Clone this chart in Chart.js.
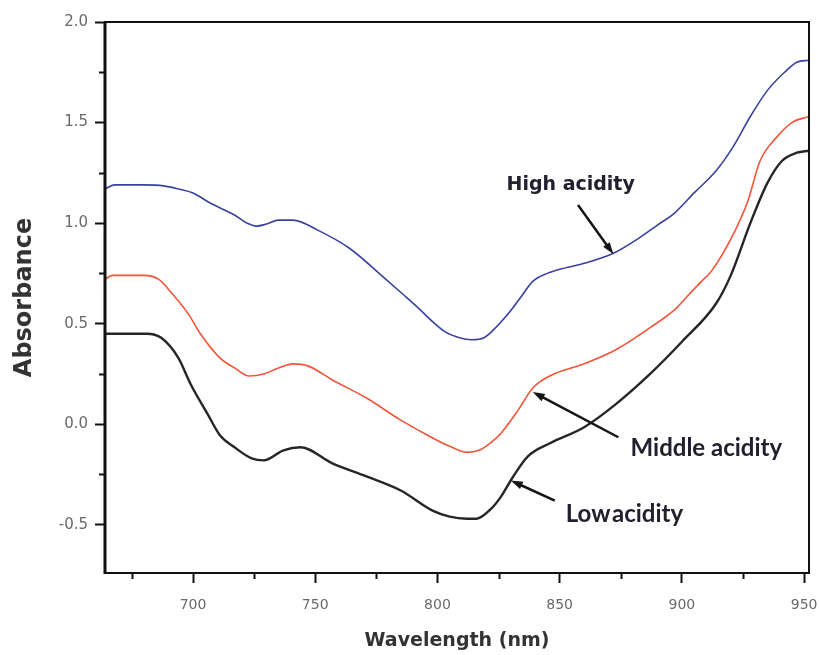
<!DOCTYPE html>
<html>
<head>
<meta charset="utf-8">
<script src="https://cdn.jsdelivr.net/npm/chart.js@4.4.1/dist/chart.umd.min.js"></script>
<style>
  html, body { margin: 0; padding: 0; background: #ffffff; }
  #wrap { width: 819px; height: 655px; }
</style>
</head>
<body>
<div id="wrap"><canvas id="c" width="819" height="655"></canvas></div>
<script>
// ---- Data ----
const highWl  = [664, 668, 680, 688, 694, 700, 707, 717, 722, 726, 730, 735, 741, 751, 764, 778, 786, 792, 798, 803, 809, 814, 819, 823, 829, 834, 839, 845, 850, 860, 872, 883, 890, 897, 905, 914, 921, 928, 935, 942, 947, 952];
const highAbs = [1.17, 1.19, 1.19, 1.185, 1.17, 1.15, 1.10, 1.04, 1.00, 0.985, 0.995, 1.015, 1.015, 0.965, 0.875, 0.73, 0.645, 0.58, 0.51, 0.46, 0.43, 0.42, 0.43, 0.47, 0.55, 0.63, 0.71, 0.75, 0.77, 0.80, 0.85, 0.93, 0.99, 1.05, 1.15, 1.26, 1.38, 1.53, 1.66, 1.75, 1.80, 1.81];

const midWl  = [664, 667, 680, 686, 690, 698, 703, 711, 717, 723, 729, 735, 741, 747, 757, 771, 785, 793, 799, 805, 812, 817, 822, 826, 833, 839, 846, 860, 873, 887, 898, 901, 908, 912, 920, 927, 932, 939, 945, 952];
const midAbs = [0.72, 0.74, 0.74, 0.72, 0.67, 0.55, 0.45, 0.33, 0.28, 0.24, 0.25, 0.28, 0.30, 0.29, 0.22, 0.13, 0.02, -0.035, -0.075, -0.11, -0.14, -0.13, -0.09, -0.045, 0.07, 0.18, 0.24, 0.30, 0.37, 0.48, 0.58, 0.62, 0.71, 0.76, 0.92, 1.11, 1.31, 1.43, 1.50, 1.53];

const lowWl  = [664, 681, 687, 694, 699, 706, 711, 717, 724, 729, 737, 744, 757, 771, 785, 798, 805, 812, 816, 822, 826, 831, 837, 846, 860, 873, 887, 900, 914, 920, 928, 935, 941, 947, 952];
const lowAbs = [0.45, 0.45, 0.43, 0.33, 0.20, 0.05, -0.055, -0.115, -0.17, -0.18, -0.13, -0.115, -0.195, -0.26, -0.33, -0.43, -0.46, -0.47, -0.47, -0.42, -0.36, -0.26, -0.16, -0.095, -0.015, 0.10, 0.25, 0.41, 0.60, 0.74, 1.00, 1.20, 1.31, 1.35, 1.36];

const xTicks = [700, 750, 800, 850, 900, 950];
const xMinorTicks = [675, 725, 775, 825, 875, 925];
const yTicks = [-0.5, 0.0, 0.5, 1.0, 1.5, 2.0];
const yMinorTicks = [-0.25, 0.25, 0.75, 1.25, 1.75];

const seriesNames = ['High acidity', 'Middle acidity', 'Low acidity'];

function pts(xs, ys) { return xs.map((x, i) => ({ x: x, y: ys[i] })); }

// annotation labels (anchored in data units)
const notes = [
  { text: seriesNames[0], font: 'bold 19px "DejaVu Sans"', tx: 854.5, ty: 1.19, from: [857.5, 1.09], to: [872, 0.845] },
  { text: seriesNames[1], font: 'bold 24px Lato', tx: 910, ty: -0.12, from: [874, -0.065], to: [839, 0.16] },
  { text: 'Low' + String.fromCharCode(8202) + 'acidity', font: 'bold 24px Lato', tx: 876.5, ty: -0.45, from: [848, -0.38], to: [830, -0.28] }
];

const framePlugin = {
  id: 'frame',
  afterDatasetsDraw(chart) {
    const ctx = chart.ctx;
    const a = chart.chartArea;
    const xs = chart.scales.x, ys = chart.scales.y;
    ctx.save();
    ctx.strokeStyle = '#111';
    ctx.lineWidth = 2;
    ctx.beginPath();
    ctx.rect(a.left, a.top, a.right - a.left, a.bottom - a.top);
    ctx.stroke();
    // thicker left axis
    ctx.lineWidth = 3;
    ctx.beginPath();
    ctx.moveTo(a.left, a.top);
    ctx.lineTo(a.left, a.bottom + 1);
    ctx.stroke();
    // minor ticks
    ctx.lineWidth = 2;
    ctx.beginPath();
    xMinorTicks.forEach(v => {
      const px = Math.round(xs.getPixelForValue(v)) + 0.5;
      ctx.moveTo(px, a.bottom);
      ctx.lineTo(px, a.bottom + 6);
    });
    yMinorTicks.forEach(v => {
      const py = Math.round(ys.getPixelForValue(v)) + 0.5;
      ctx.moveTo(a.left, py);
      ctx.lineTo(a.left - 6, py);
    });
    ctx.stroke();

    // annotations
    notes.forEach(n => {
      ctx.fillStyle = '#20202e';
      ctx.font = n.font;
      ctx.textAlign = 'center';
      ctx.textBaseline = 'middle';
      ctx.fillText(n.text, xs.getPixelForValue(n.tx), ys.getPixelForValue(n.ty));
      const x1 = xs.getPixelForValue(n.from[0]), y1 = ys.getPixelForValue(n.from[1]);
      const x2 = xs.getPixelForValue(n.to[0]), y2 = ys.getPixelForValue(n.to[1]);
      const ang = Math.atan2(y2 - y1, x2 - x1);
      const L = 12, W = 4;
      ctx.strokeStyle = '#151515';
      ctx.lineWidth = 2.5;
      ctx.beginPath();
      ctx.moveTo(x1, y1);
      ctx.lineTo(x2 - Math.cos(ang) * L * 0.6, y2 - Math.sin(ang) * L * 0.6);
      ctx.stroke();
      ctx.fillStyle = '#151515';
      ctx.beginPath();
      ctx.moveTo(x2, y2);
      ctx.lineTo(x2 - Math.cos(ang) * L + Math.sin(ang) * W, y2 - Math.sin(ang) * L - Math.cos(ang) * W);
      ctx.lineTo(x2 - Math.cos(ang) * L - Math.sin(ang) * W, y2 - Math.sin(ang) * L + Math.cos(ang) * W);
      ctx.closePath();
      ctx.fill();
    });
    ctx.restore();
  }
};

new Chart(document.getElementById('c'), {
  type: 'line',
  data: {
    datasets: [
      { label: seriesNames[0], data: pts(highWl, highAbs), borderColor: '#39429e', borderWidth: 1.6 },
      { label: seriesNames[1], data: pts(midWl, midAbs), borderColor: '#f0553a', borderWidth: 1.6 },
      { label: seriesNames[2], data: pts(lowWl, lowAbs), borderColor: '#262626', borderWidth: 2.4 }
    ]
  },
  options: {
    responsive: false,
    devicePixelRatio: 1,
    animation: false,
    events: [],
    elements: {
      point: { radius: 0 },
      line: { tension: 0.4, cubicInterpolationMode: 'monotone', fill: false }
    },
    layout: { padding: { top: 22, right: 10, left: 0, bottom: 0 } },
    plugins: { legend: { display: false }, tooltip: { enabled: false }, title: { display: false } },
    scales: {
      x: {
        type: 'linear',
        position: 'bottom',
        min: 664,
        max: 952,
        afterBuildTicks: s => { s.ticks = xTicks.map(v => ({ value: v })); },
        afterFit: s => { s.height = 82; s.paddingLeft = 0; s.paddingRight = 0; },
        ticks: {
          color: '#6a6a6a',
          font: { family: 'DejaVu Sans', size: 14 },
          padding: 14,
          maxRotation: 0,
          callback: v => String(v)
        },
        grid: { drawOnChartArea: false, drawTicks: true, tickLength: 10, tickColor: '#111', tickWidth: 2 },
        border: { display: false },
        title: {
          display: true,
          text: 'Wavelength (nm)',
          color: '#333',
          font: { family: 'DejaVu Sans', size: 19, weight: 'bold' },
          padding: { top: 0, bottom: 3 }
        }
      },
      y: {
        type: 'linear',
        min: -0.74,
        max: 2.0,
        afterBuildTicks: s => { s.ticks = yTicks.map(v => ({ value: v })); },
        afterFit: s => { s.width = 105; s.paddingTop = 0; s.paddingBottom = 0; },
        ticks: {
          color: '#6a6a6a',
          font: { family: 'DejaVu Sans', size: 15 },
          padding: 7,
          callback: v => v.toFixed(1)
        },
        grid: { drawOnChartArea: false, drawTicks: true, tickLength: 10, tickColor: '#111', tickWidth: 2 },
        border: { display: false },
        title: {
          display: true,
          text: 'Absorbance',
          color: '#333',
          font: { family: 'DejaVu Sans', size: 24, weight: 'bold' },
          padding: { top: 10, bottom: 0 }
        }
      }
    }
  },
  plugins: [framePlugin]
});
</script>
</body>
</html>
